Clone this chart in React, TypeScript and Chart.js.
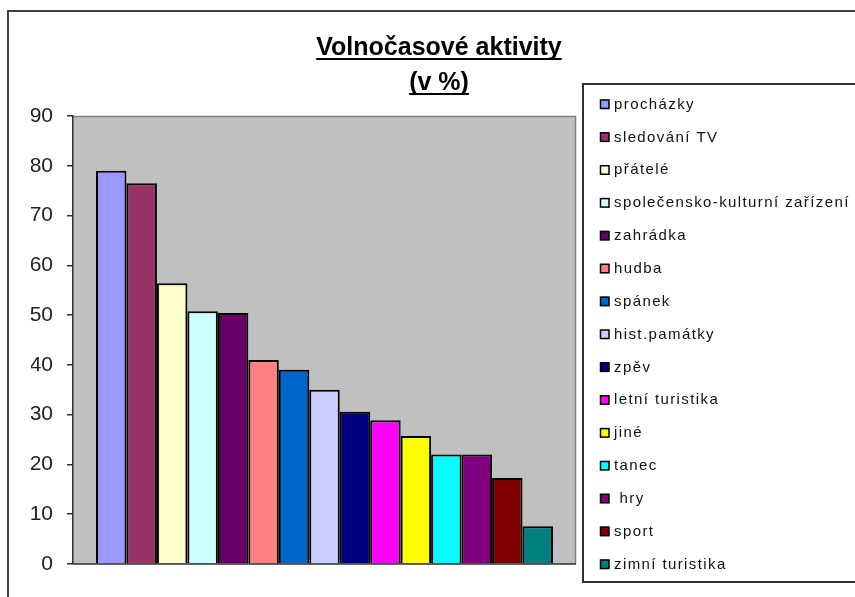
import React, { useEffect, useRef } from "react";
import { Chart, registerables } from "chart.js";

Chart.register(...registerables);

const categories = ["Volnočasové aktivity"];
const titleLines = ["Volnočasové aktivity", "(v %)"];
const activities = [
  "procházky",
  "sledování TV",
  "přátelé",
  "společensko-kulturní zařízení",
  "zahrádka",
  "hudba",
  "spánek",
  "hist.památky",
  "zpěv",
  "letní turistika",
  "jiné",
  "tanec",
  " hry",
  "sport",
  "zimní turistika",
];
const percentages = [79, 76.5, 56.4, 50.8, 50.4, 41, 39, 35, 30.6, 28.9, 25.7, 22, 22, 17.3, 7.6];
const barColors = [
  "#9999FF",
  "#993366",
  "#FFFFCC",
  "#CCFFFF",
  "#660066",
  "#FF8080",
  "#0066CC",
  "#CCCCFF",
  "#000080",
  "#FF00FF",
  "#FFFF00",
  "#00FFFF",
  "#800080",
  "#800000",
  "#008080",
];
const yMin = 0;
const yMax = 90;
const yStep = 10;

const FONT = "'Liberation Sans', Arial, sans-serif";

const decorPlugin = {
  id: "excelDecor",
  beforeDraw(chart: any) {
    const { ctx, chartArea: a } = chart;
    ctx.save();
    ctx.fillStyle = "#FFFFFF";
    ctx.fillRect(0, 0, chart.width, chart.height);
    ctx.fillStyle = "#C0C0C0";
    ctx.fillRect(a.left, a.top, a.right - a.left, a.bottom - a.top);
    ctx.strokeStyle = "#808080";
    ctx.lineWidth = 1.5;
    ctx.beginPath();
    ctx.moveTo(a.left, a.top + 0.5);
    ctx.lineTo(a.right - 0.5, a.top + 0.5);
    ctx.lineTo(a.right - 0.5, a.bottom);
    ctx.stroke();
    ctx.restore();
  },
  afterDatasetsDraw(chart: any) {
    const { ctx, chartArea: a } = chart;
    ctx.save();
    ctx.strokeStyle = "#303030";
    ctx.lineWidth = 1.5;
    ctx.beginPath();
    ctx.moveTo(a.left, a.bottom);
    ctx.lineTo(a.right, a.bottom);
    ctx.stroke();
    ctx.restore();
  },
  afterDraw(chart: any) {
    const { ctx } = chart;
    ctx.save();
    // outer chart border
    ctx.strokeStyle = "#404040";
    ctx.lineWidth = 2;
    ctx.strokeRect(8, 11, chart.width + 20, chart.height + 20);

    // title
    ctx.fillStyle = "#000000";
    ctx.textAlign = "center";
    ctx.textBaseline = "alphabetic";
    ctx.font = `bold 25px ${FONT}`;
    const cx = 439;
    const baselines = [55, 90];
    titleLines.forEach((t, i) => {
      ctx.fillText(t, cx, baselines[i]);
      const w = ctx.measureText(t).width;
      ctx.fillRect(cx - w / 2, baselines[i] + 3, w, 2);
    });

    // legend
    ctx.strokeStyle = "#303030";
    ctx.lineWidth = 2;
    ctx.strokeRect(583, 84, 300, 498);
    ctx.font = `15px ${FONT}`;
    (ctx as any).letterSpacing = "1.4px";
    ctx.textAlign = "left";
    ctx.textBaseline = "middle";
    const ds = chart.data.datasets;
    ds.forEach((d: any, i: number) => {
      const y = 104 + i * 32.86;
      ctx.fillStyle = d.backgroundColor;
      ctx.fillRect(600, y - 4.5, 9, 9);
      ctx.strokeStyle = "#000000";
      ctx.lineWidth = 1.5;
      ctx.strokeRect(600.5, y - 4, 8.5, 8.5);
      ctx.fillStyle = "#111111";
      ctx.fillText(d.label, 614, y + 0.5);
    });
    (ctx as any).letterSpacing = "0px";
    ctx.restore();
  },
};

export default function App() {
  const ref = useRef<HTMLCanvasElement | null>(null);

  useEffect(() => {
    if (!ref.current) return;
    const chart = new Chart(ref.current, {
      type: "bar",
      data: {
        labels: categories,
        datasets: activities.map((label, i) => ({
          label,
          data: [percentages[i]],
          backgroundColor: barColors[i],
          borderColor: "#000000",
          borderWidth: 2,
          categoryPercentage: 0.9085,
          barPercentage: 1,
        })),
      },
      options: {
        animation: false,
        responsive: false,
        maintainAspectRatio: false,
        layout: { padding: { left: 31, right: 279, top: 116, bottom: 33 } },
        plugins: {
          legend: { display: false },
          title: { display: false },
          tooltip: { enabled: false },
        },
        scales: {
          x: { display: false },
          y: {
            min: yMin,
            max: yMax,
            afterFit: (s: any) => {
              s.width = 42;
            },
            ticks: {
              stepSize: yStep,
              padding: 14,
              color: "#222222",
              font: { family: FONT, size: 21 },
            },
            grid: {
              drawOnChartArea: false,
              drawTicks: true,
              tickLength: 6,
              color: "#303030",
              lineWidth: 1.5,
            },
            border: { display: true, color: "#303030", width: 1.5 },
          },
        },
      },
      plugins: [decorPlugin],
    });
    return () => chart.destroy();
  }, []);

  return (
    <div style={{ position: "fixed", left: 0, top: 0, width: 855, height: 597, background: "#fff" }}>
      <canvas ref={ref} width={855} height={597} style={{ display: "block" }} />
    </div>
  );
}
